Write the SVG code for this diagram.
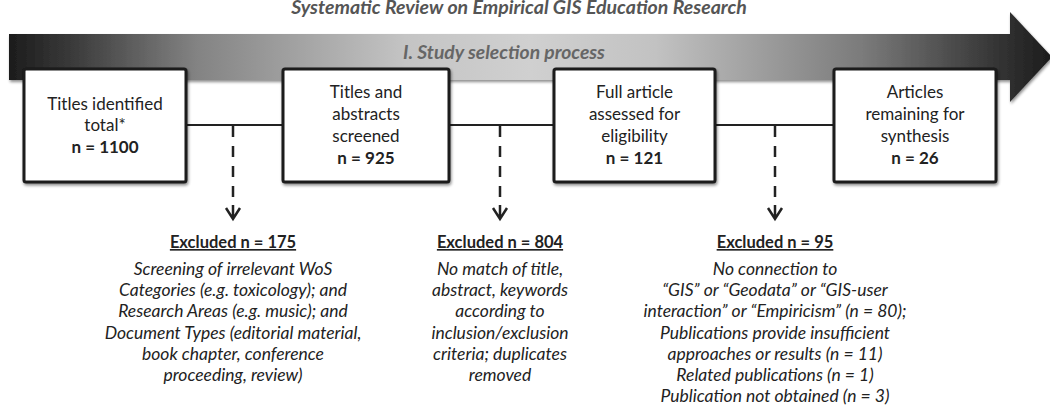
<svg xmlns="http://www.w3.org/2000/svg" width="1050" height="405" viewBox="0 0 1050 405">
<defs>
<linearGradient id="band" gradientUnits="userSpaceOnUse" x1="9" y1="0" x2="1052" y2="0">
<stop offset="0" stop-color="#1c1c1c"/>
<stop offset="0.06" stop-color="#3a3a3a"/>
<stop offset="0.18" stop-color="#838383"/>
<stop offset="0.38" stop-color="#c4c4c4"/>
<stop offset="0.5" stop-color="#d0d0d0"/>
<stop offset="0.62" stop-color="#c2c2c2"/>
<stop offset="0.82" stop-color="#7a7a7a"/>
<stop offset="0.95" stop-color="#333333"/>
<stop offset="1" stop-color="#1c1c1c"/>
</linearGradient>
<filter id="sh" x="-5%" y="-20%" width="110%" height="150%">
<feGaussianBlur in="SourceAlpha" stdDeviation="1.5"/>
<feOffset dx="1" dy="2" result="b"/>
<feComponentTransfer><feFuncA type="linear" slope="0.45"/></feComponentTransfer>
<feMerge><feMergeNode/><feMergeNode in="SourceGraphic"/></feMerge>
</filter>
</defs>
<style>
.t{font-family:Lato,"Open Sans",sans-serif;fill:#222;text-anchor:middle}
.box{fill:#fff;stroke:#1a1a1a;stroke-width:3}
.bx{font-size:17px}
.b{font-weight:bold}
.ex{font-size:16.5px;font-weight:bold;text-decoration:underline}
.it{font-size:17.5px;font-style:italic}
.conn{stroke:#222;stroke-width:2;fill:none}
.dash{stroke:#222;stroke-width:2.5;fill:none;stroke-dasharray:11 9}
.head{stroke:#222;stroke-width:2.5;fill:none}
</style>
<text x="519" y="14" class="t" style="font-size:19.5px;font-weight:bold;font-style:italic;fill:#555">Systematic Review on Empirical GIS Education Research</text>
<g id="band-arrow">
<path d="M9,34 H1010 V12 L1052,57 L1010,102 V80 H9 Z" fill="url(#band)" filter="url(#sh)"/>
<text x="504" y="59" class="t" style="font-size:19.3px;font-weight:bold;font-style:italic;fill:#666">I. Study selection process</text>
</g>
<g id="connectors">
<line x1="186" y1="125" x2="283" y2="125" class="conn"/>
<line x1="449" y1="125" x2="554" y2="125" class="conn"/>
<line x1="715" y1="125" x2="834" y2="125" class="conn"/>
<line x1="233" y1="126" x2="233" y2="200" class="dash"/>
<path d="M233,205 V218 M226,208 L233,219 L240,208" class="head"/>
<line x1="500" y1="126" x2="500" y2="200" class="dash"/>
<path d="M500,205 V218 M493,208 L500,219 L507,208" class="head"/>
<line x1="775" y1="126" x2="775" y2="200" class="dash"/>
<path d="M775,205 V218 M768,208 L775,219 L782,208" class="head"/>
</g>
<g id="box1">
<rect x="24" y="69" width="162" height="113" rx="2" class="box" filter="url(#sh)"/>
<text class="t bx" x="105" y="110">Titles identified</text>
<text class="t bx" x="105" y="131">total*</text>
<text class="t bx b" x="105" y="153">n = 1100</text>
</g>
<g id="box2">
<rect x="283" y="69" width="166" height="113" rx="2" class="box" filter="url(#sh)"/>
<text class="t bx" x="366" y="98">Titles and</text>
<text class="t bx" x="366" y="120">abstracts</text>
<text class="t bx" x="366" y="142">screened</text>
<text class="t bx b" x="366" y="164">n = 925</text>
</g>
<g id="box3">
<rect x="554" y="69" width="161" height="113" rx="2" class="box" filter="url(#sh)"/>
<text class="t bx" x="634.5" y="98">Full article</text>
<text class="t bx" x="634.5" y="120">assessed for</text>
<text class="t bx" x="634.5" y="142">eligibility</text>
<text class="t bx b" x="634.5" y="164">n = 121</text>
</g>
<g id="box4">
<rect x="834" y="69" width="162" height="113" rx="2" class="box" filter="url(#sh)"/>
<text class="t bx" x="915" y="98">Articles</text>
<text class="t bx" x="915" y="120">remaining for</text>
<text class="t bx" x="915" y="142">synthesis</text>
<text class="t bx b" x="915" y="164">n = 26</text>
</g>
<g id="excluded1">
<text class="t ex" x="233" y="248">Excluded n = 175</text>
<text class="t it" x="233" y="275">Screening of irrelevant WoS</text>
<text class="t it" x="233" y="296">Categories (e.g. toxicology); and</text>
<text class="t it" x="233" y="317">Research Areas (e.g. music); and</text>
<text class="t it" x="233" y="339">Document Types (editorial material,</text>
<text class="t it" x="233" y="360">book chapter, conference</text>
<text class="t it" x="233" y="381">proceeding, review)</text>
</g>
<g id="excluded2">
<text class="t ex" x="500" y="248">Excluded n = 804</text>
<text class="t it" x="500" y="275">No match of title,</text>
<text class="t it" x="500" y="296">abstract, keywords</text>
<text class="t it" x="500" y="317">according to</text>
<text class="t it" x="500" y="339">inclusion/exclusion</text>
<text class="t it" x="500" y="360">criteria; duplicates</text>
<text class="t it" x="500" y="381">removed</text>
</g>
<g id="excluded3">
<text class="t ex" x="775" y="248">Excluded n = 95</text>
<text class="t it" x="775" y="275">No connection to</text>
<text class="t it" x="775" y="296">“GIS” or “Geodata” or “GIS-user</text>
<text class="t it" x="775" y="317">interaction” or “Empiricism” (n = 80);</text>
<text class="t it" x="775" y="339">Publications provide insufficient</text>
<text class="t it" x="775" y="360">approaches or results (n = 11)</text>
<text class="t it" x="775" y="381">Related publications (n = 1)</text>
<text class="t it" x="775" y="402">Publication not obtained (n = 3)</text>
</g>
</svg>
